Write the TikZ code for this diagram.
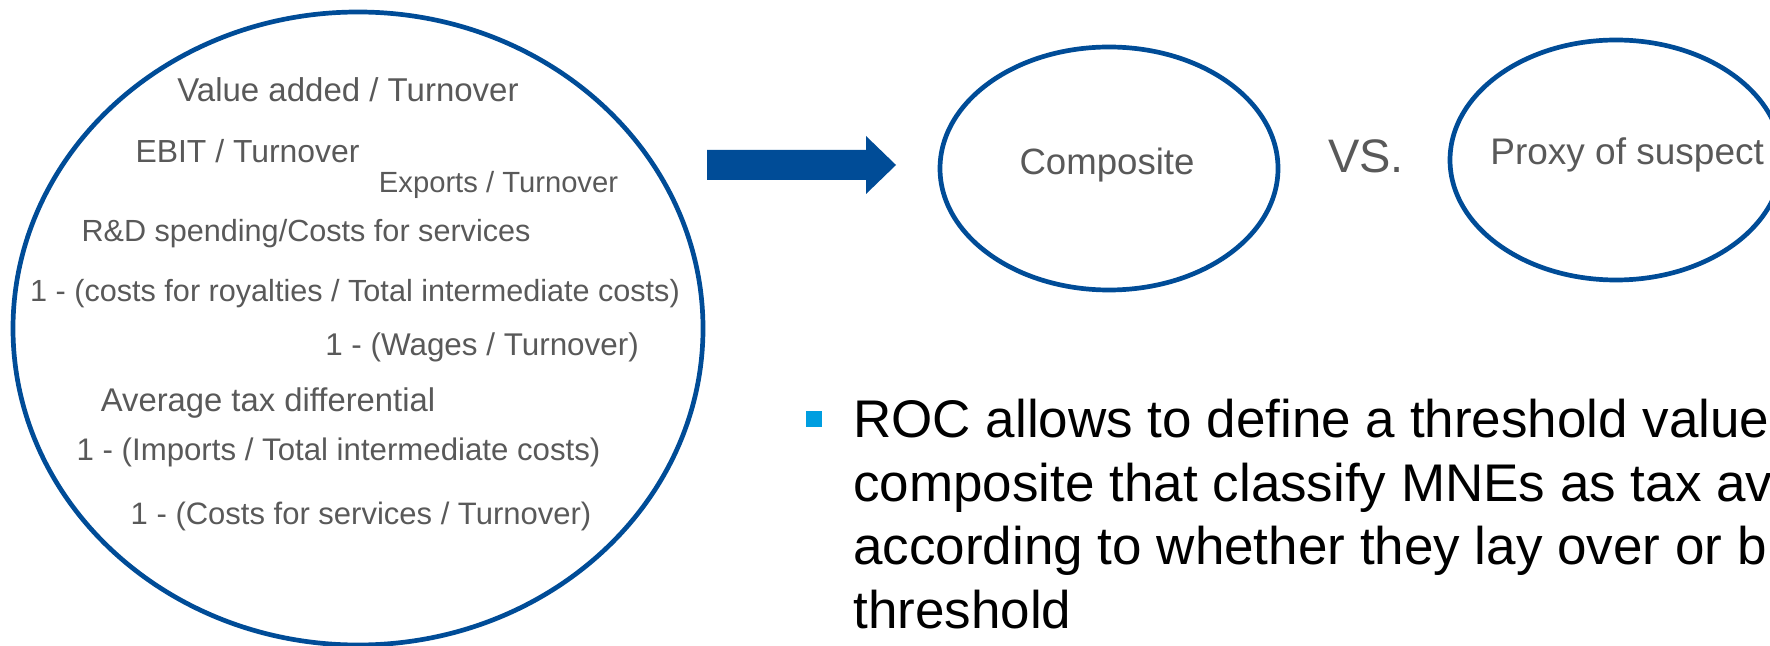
\documentclass[tikz,border=0pt]{standalone}
\usepackage{fontspec}
\setmainfont{Liberation Sans}
\usetikzlibrary{shapes.geometric}

\definecolor{ocblue}{RGB}{0,76,151}
\definecolor{ocgray}{RGB}{89,89,89}
\definecolor{ocbullet}{RGB}{0,158,224}

\begin{document}
\begin{tikzpicture}[x=0.5pt,y=-0.5pt,
  bubble/.style={ellipse,draw=ocblue,line width=2.35pt,inner sep=0pt},
  ratio/.style={text=ocgray,font=\fontsize{#1}{18}\selectfont,anchor=base,inner sep=0pt},
  ratio/.default=15.5,
  bubbletext/.style={text=ocgray,font=\fontsize{18.5}{22}\selectfont,anchor=base,inner sep=0pt}]
  \useasboundingbox (0,0) rectangle (1770,646);
  \clip (0,0) rectangle (1770,646);

  % Pool of indicators
  \node[bubble,minimum width=345pt,minimum height=316.5pt] (pool) at (358,328.5) {};
  \node[ratio=16.5] (va) at (348,102) {Value added / Turnover};
  \node[ratio=15.95] (ebit) at (247.5,163) {EBIT / Turnover};
  \node[ratio=14.6] (exports) at (498.5,193) {Exports / Turnover};
  \node[ratio=15.3] (rnd) at (306,242) {R\&D spending/Costs for services};
  \node[ratio=15.3] (royalties) at (355,302) {1 - (costs for royalties / Total intermediate costs)};
  \node[ratio=15.7] (wages) at (482,356) {1 - (Wages / Turnover)};
  \node[ratio=16.4] (taxdiff) at (268,411) {Average tax differential};
  \node[ratio=15.6] (imports) at (338.5,460) {1 - (Imports / Total intermediate costs)};
  \node[ratio=15.5] (services) at (361,524) {1 - (Costs for services / Turnover)};

  % Block arrow towards the composite
  \coordinate (tail) at (707,165);
  \coordinate (tip) at (896,165);
  \fill[ocblue] (tail) ++(0,-15) -- (866,150) -- (866,136) -- (tip)
    -- (866,194) -- (866,180) -- ([yshift=-7.5pt]tail) -- cycle;

  % Composite vs. proxy
  \node[bubble,minimum width=169pt,minimum height=121.5pt] (comp) at (1109,168.5) {};
  \node[bubbletext,font=\fontsize{18.3}{22}\selectfont] (complbl) at (1107,175) {Composite};
  \node[text=ocgray,font=\fontsize{23.5}{28}\selectfont,anchor=base,inner sep=0pt] (vs) at (1366,173) {VS.};
  \node[bubble,minimum width=166pt,minimum height=120pt] (proxy) at (1616,160) {};
  \node[bubbletext,anchor=base west] (proxylbl) at (1490,165) {Proxy of suspect};

  % Bullet point (base sits on the last line)
  \node[fill=ocbullet,minimum size=8pt,inner sep=0pt] (bullet) at (814,419) {};
  \node[font=\fontsize{26.5}{31.75}\selectfont,align=left,anchor=base west,inner sep=0pt] (roc) at (853,628)
    {ROC allows to define a threshold value\\
     composite that classify MNEs as tax av\\
     according to whether they lay over or b\\
     threshold};
\end{tikzpicture}
\end{document}
